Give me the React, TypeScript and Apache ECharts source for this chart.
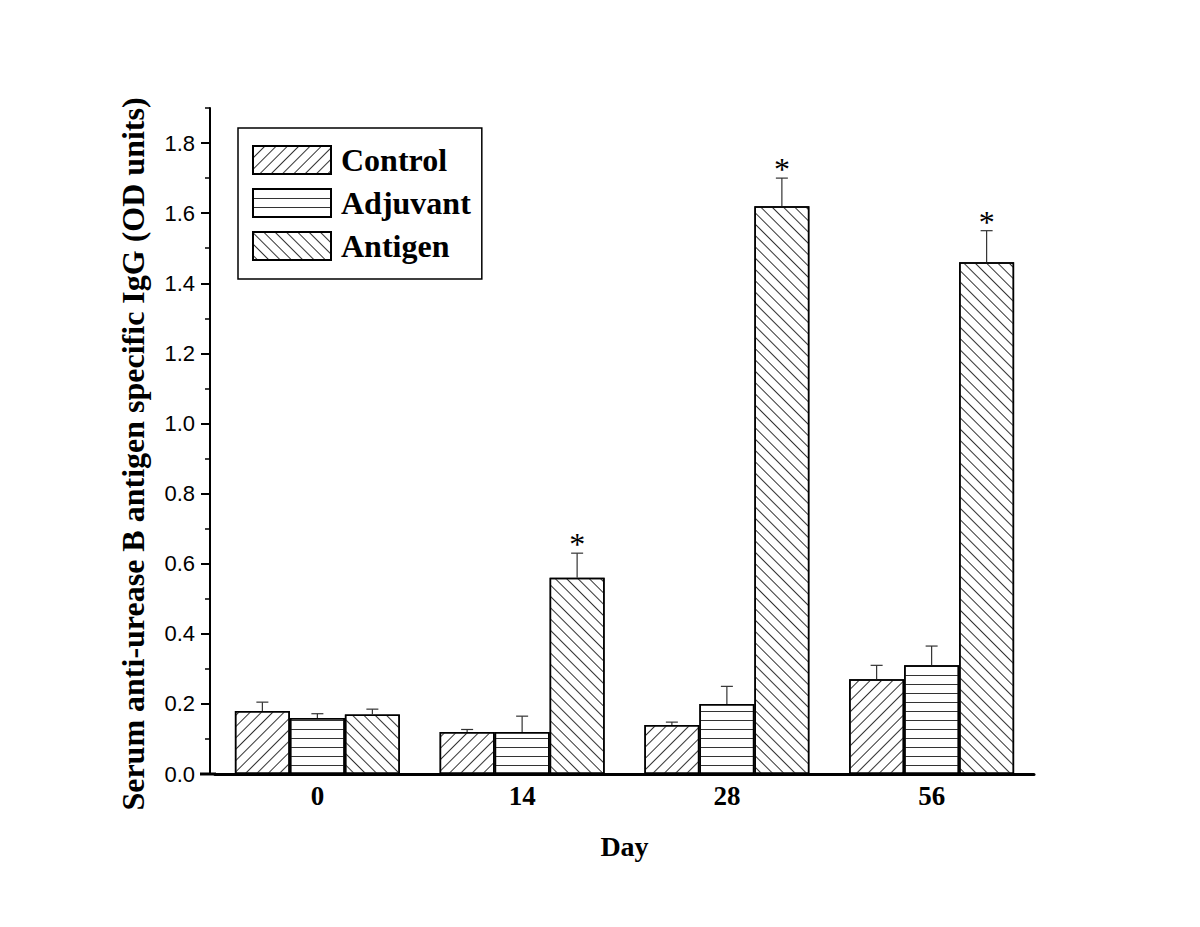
import React, { useEffect, useRef } from "react";
import * as echarts from "echarts";

const days = ["0", "14", "28", "56"];
const seriesNames = ["Control", "Adjuvant", "Antigen"];
const control = [0.18, 0.12, 0.14, 0.27];
const controlErr = [0.025, 0.007, 0.008, 0.04];
const adjuvant = [0.16, 0.12, 0.2, 0.31];
const adjuvantErr = [0.012, 0.045, 0.05, 0.055];
const antigen = [0.17, 0.56, 1.62, 1.46];
const antigenErr = [0.015, 0.07, 0.08, 0.09];
const antigenStar = [0, 1, 1, 1];
const yMajorTicks = [0, 0.2, 0.4, 0.6, 0.8, 1.0, 1.2, 1.4, 1.6, 1.8];
const yTitle = "Serum anti-urease B antigen specific IgG (OD units)";

const BAR_W = 55;
const SERIF = '"Liberation Serif", "Times New Roman", serif';

const decalControl = {
  symbol: "rect",
  symbolSize: 1,
  dashArrayX: [1, 0],
  dashArrayY: [1, 7],
  rotation: -Math.PI / 4,
  color: "#333",
  backgroundColor: "#fff",
};
const decalAdjuvant = {
  symbol: "rect",
  symbolSize: 1,
  dashArrayX: [1, 0],
  dashArrayY: [1, 7.7],
  rotation: 0,
  color: "#333",
  backgroundColor: "#fff",
};
const decalAntigen = {
  symbol: "rect",
  symbolSize: 1,
  dashArrayX: [1, 0],
  dashArrayY: [1, 7],
  rotation: Math.PI / 4,
  color: "#333",
  backgroundColor: "#fff",
};

function errSeries(name: string, vals: number[], errs: number[], stars: number[], k: number) {
  return {
    type: "custom",
    name: name + " err",
    z: 5,
    data: vals.map((v, i) => [i, v, errs[i], stars[i]]),
    encode: { x: 0, y: 1 },
    renderItem: (params: any, api: any) => {
      const ci = api.value(0);
      const v = api.value(1);
      const e = api.value(2);
      const s = api.value(3);
      const base = api.coord([ci, v]);
      const top = api.coord([ci, v + e]);
      const x = base[0] + (k - 1) * BAR_W;
      const children: any[] = [
        {
          type: "line",
          shape: { x1: x, y1: base[1], x2: x, y2: top[1] },
          style: { stroke: "#333", lineWidth: 1.2 },
        },
        {
          type: "line",
          shape: { x1: x - 6, y1: top[1], x2: x + 6, y2: top[1] },
          style: { stroke: "#333", lineWidth: 1.2 },
        },
      ];
      if (s) {
        children.push({
          type: "text",
          x: x,
          y: top[1] - 9,
          style: {
            text: "*",
            textAlign: "center",
            textVerticalAlign: "middle",
            font: "32px " + SERIF,
            fill: "#000",
          },
        });
      }
      return { type: "group", children };
    },
  };
}

function barSeries(name: string, vals: number[], decal: any) {
  return {
    type: "bar",
    name,
    data: vals,
    barWidth: BAR_W,
    barGap: "0%",
    itemStyle: {
      color: "#fff",
      borderColor: "#000",
      borderWidth: 1.5,
      decal,
    },
  };
}

export default function App() {
  const ref = useRef<HTMLDivElement>(null);
  useEffect(() => {
    if (!ref.current) return;
    const chart = echarts.init(ref.current, undefined, { renderer: "svg" });
    const option: any = {
      animation: false,
      backgroundColor: "#fff",
      grid: { left: 215, width: 819, top: 108, height: 666 },
      legend: {
        data: seriesNames,
        orient: "vertical",
        icon: "rect",
        left: 238,
        top: 128,
        itemWidth: 78,
        itemHeight: 28,
        itemGap: 11,
        padding: [16, 11, 17, 14],
        borderColor: "#000",
        borderWidth: 1.5,
        textStyle: {
          fontFamily: SERIF,
          fontWeight: "bold",
          fontSize: 32,
          color: "#000",
          padding: [0, 0, 0, 5],
        },
      },
      xAxis: {
        type: "category",
        data: days,
        axisTick: { show: false },
        axisLine: { lineStyle: { color: "#000", width: 3 } },
        axisLabel: { fontFamily: SERIF, fontWeight: "bold", fontSize: 27, color: "#000", margin: 8 },
        name: "Day",
        nameLocation: "middle",
        nameGap: 58,
        nameTextStyle: { fontFamily: SERIF, fontWeight: "bold", fontSize: 28, color: "#000" },
      },
      yAxis: [
        {
          type: "value",
          min: 0,
          max: 1.9,
          interval: 0.1,
          position: "left",
          offset: 5,
          splitLine: { show: false },
          axisLine: { show: true, lineStyle: { color: "#000", width: 2 } },
          axisTick: { show: true, length: 5, lineStyle: { color: "#000", width: 1.5 } },
          axisLabel: { show: false },
        },
        {
          type: "value",
          min: 0,
          max: 1.9,
          interval: 0.2,
          position: "left",
          offset: 5,
          splitLine: { show: false },
          axisLine: { show: false },
          axisTick: {
            show: true,
            length: 9,
            customValues: yMajorTicks,
            lineStyle: { color: "#000", width: 2 },
          },
          axisLabel: {
            customValues: yMajorTicks,
            formatter: (v: number) => v.toFixed(1),
            fontFamily: '"Liberation Sans", Arial, sans-serif',
            fontSize: 22,
            color: "#000",
            margin: 15,
          },
        },
      ],
      graphic: [
        {
          type: "line",
          shape: { x1: 200, y1: 774, x2: 216, y2: 774 },
          style: { stroke: "#000", lineWidth: 3 },
          z: 10,
        },
        {
          type: "text",
          x: 133,
          y: 454,
          rotation: Math.PI / 2,
          style: {
            text: yTitle,
            font: "bold 32px " + SERIF,
            fill: "#000",
            textAlign: "center",
            textVerticalAlign: "middle",
          },
        },
      ],
      series: [
        barSeries("Control", control, decalControl),
        barSeries("Adjuvant", adjuvant, decalAdjuvant),
        barSeries("Antigen", antigen, decalAntigen),
        errSeries("Control", control, controlErr, [0, 0, 0, 0], 0),
        errSeries("Adjuvant", adjuvant, adjuvantErr, [0, 0, 0, 0], 1),
        errSeries("Antigen", antigen, antigenErr, antigenStar, 2),
      ],
    };
    chart.setOption(option);
    return () => chart.dispose();
  }, []);
  return (
    <div
      ref={ref}
      style={{ position: "fixed", left: 0, top: 0, width: 1200, height: 927, background: "#fff" }}
    />
  );
}
